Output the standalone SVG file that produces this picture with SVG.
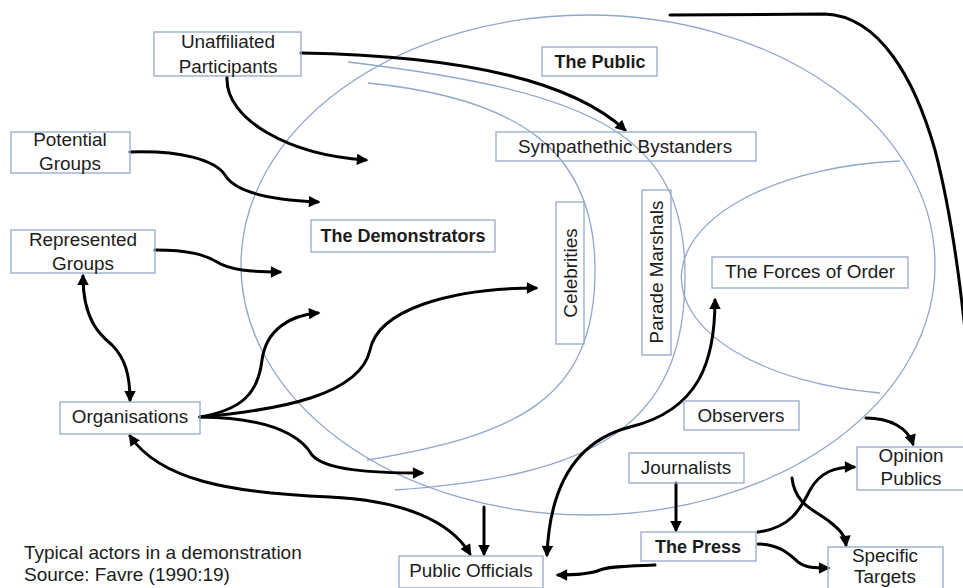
<svg xmlns="http://www.w3.org/2000/svg" width="963" height="588" viewBox="0 0 963 588">
<defs>
<style>
.bg{fill:#ffffff}
.arc{fill:none;stroke:#8ea8cc;stroke-width:1.3}
.box{fill:none;stroke:#9cb0cf;stroke-width:1.4}
.lbl{font-family:"Liberation Sans",Arial,sans-serif;font-size:18.9px;fill:#1c1c1c;text-anchor:middle}
.b{font-weight:bold;font-size:18px}
.cap{font-family:"Liberation Sans",Arial,sans-serif;font-size:19px;fill:#1c1c1c}
.conn{fill:none;stroke:#000000;stroke-width:3;stroke-linecap:round}
.ar{marker-end:url(#ah)}
.ar2{marker-start:url(#ah);marker-end:url(#ah)}
</style>
<marker id="ah" viewBox="0 0 10 10" refX="8" refY="5" markerWidth="4.2" markerHeight="3.8" orient="auto-start-reverse" markerUnits="strokeWidth">
<path d="M0,0 L10,5 L0,10 z" fill="#000000"/>
</marker>
</defs>
<rect class="bg" x="0" y="0" width="963" height="588"/>

<g id="areas">
<ellipse class="arc" cx="588" cy="265" rx="347" ry="250"/>
<path class="arc" d="M348 62 C598 92 685 136 685 276 C685 426 595 476 395 490"/>
<path class="arc" d="M368 83 C518 98 595 150 595 270 C595 400 517 435 367 460"/>
<path class="arc" d="M900 161 A238 117 0 0 0 880 393"/>
</g>

<g id="connectors">
<path class="conn ar" d="M301 53 C420 55 560 70 625 130"/>
<path class="conn ar" d="M227 77 C225 120 290 155 366 160"/>
<path class="conn ar" d="M130 152 C180 150 215 160 225 175 C235 192 270 200 318 202"/>
<path class="conn ar" d="M155 250 C190 250 205 255 217 262 C230 270 250 272 280 272"/>
<path class="conn ar2" d="M83 276 C83 320 100 335 112 345 C125 358 130 375 130 400"/>
<path class="conn ar" d="M200 417 C240 410 258 395 262 360 C266 330 290 315 318 313"/>
<path class="conn ar" d="M200 417 C280 410 360 395 370 350 C378 310 450 288 536 288"/>
<path class="conn ar" d="M200 417 C270 418 300 435 312 455 C325 470 370 473 422 473"/>
<path class="conn ar2" d="M130 436 C160 480 230 493 330 497 C400 500 450 520 470 554"/>
<path class="conn ar" d="M484 507 L484 554"/>
<path class="conn ar2" d="M715 300 C715 360 700 410 630 427 C580 440 550 480 547 555"/>
<path class="conn ar" d="M676 483 L676 530"/>
<path class="conn ar" d="M655 565 C630 566 610 566 600 570 C590 574 575 575 558 575"/>
<path class="conn ar" d="M758 532 C790 528 800 510 810 490 C820 472 835 467 854 467"/>
<path class="conn ar" d="M758 544 C780 544 790 555 798 562 C806 568 815 568 828 568"/>
<path class="conn ar" d="M792 478 C795 505 815 510 830 522 C840 530 845 535 846 545"/>
<path class="conn ar" d="M866 418 C890 418 908 428 913 444"/>
<path class="conn" d="M670 15 L825 14 C880 16 915 80 935 150 C948 200 958 260 966 340"/>
</g>

<g id="unaffiliated">
<rect class="box" x="154" y="32" width="147" height="44"/>
<text class="lbl" x="228" y="48">Unaffiliated</text>
<text class="lbl" x="228" y="73">Participants</text>
</g>
<g id="potential">
<rect class="box" x="11" y="132" width="119" height="41"/>
<text class="lbl" x="70" y="146">Potential</text>
<text class="lbl" x="70" y="170">Groups</text>
</g>
<g id="represented">
<rect class="box" x="11" y="230" width="144" height="43"/>
<text class="lbl" x="83" y="246">Represented</text>
<text class="lbl" x="83" y="270">Groups</text>
</g>
<g id="demonstrators">
<rect class="box" x="311" y="220" width="184" height="32"/>
<text class="lbl b" x="403" y="242">The Demonstrators</text>
</g>
<g id="public">
<rect class="box" x="542" y="47" width="115" height="29"/>
<text class="lbl b" x="600" y="68">The Public</text>
</g>
<g id="bystanders">
<rect class="box" x="496" y="132" width="260" height="29"/>
<text class="lbl" x="625" y="153">Sympathethic Bystanders</text>
</g>
<g id="celebrities">
<rect class="box" x="556" y="202" width="28" height="142"/>
<text class="lbl" transform="translate(577 273) rotate(-90)" x="0" y="0">Celebrities</text>
</g>
<g id="marshals">
<rect class="box" x="642" y="190" width="29" height="165"/>
<text class="lbl" transform="translate(663 272) rotate(-90)" x="0" y="0">Parade Marshals</text>
</g>
<g id="forces">
<rect class="box" x="712" y="257" width="196" height="31"/>
<text class="lbl" x="810" y="278">The Forces of Order</text>
</g>
<g id="organisations">
<rect class="box" x="60" y="402" width="140" height="32"/>
<text class="lbl" x="130" y="423">Organisations</text>
</g>
<g id="observers">
<rect class="box" x="684" y="401" width="115" height="29"/>
<text class="lbl" x="741" y="422">Observers</text>
</g>
<g id="journalists">
<rect class="box" x="629" y="453" width="115" height="30"/>
<text class="lbl" x="686" y="474">Journalists</text>
</g>
<g id="press">
<rect class="box" x="641" y="532" width="115" height="29"/>
<text class="lbl b" x="698" y="553">The Press</text>
</g>
<g id="officials">
<rect class="box" x="399" y="556" width="144" height="32"/>
<text class="lbl" x="471" y="577">Public Officials</text>
</g>
<g id="opinion">
<rect class="box" x="857" y="447" width="110" height="43"/>
<text class="lbl" x="911" y="462">Opinion</text>
<text class="lbl" x="911" y="485">Publics</text>
</g>
<g id="targets">
<rect class="box" x="828" y="547" width="115" height="50"/>
<text class="lbl" x="885" y="562">Specific</text>
<text class="lbl" x="885" y="583">Targets</text>
</g>
<g id="caption">
<text class="cap" x="24" y="559">Typical actors in a demonstration</text>
<text class="cap" x="24" y="581">Source: Favre (1990:19)</text>
</g>
</svg>
